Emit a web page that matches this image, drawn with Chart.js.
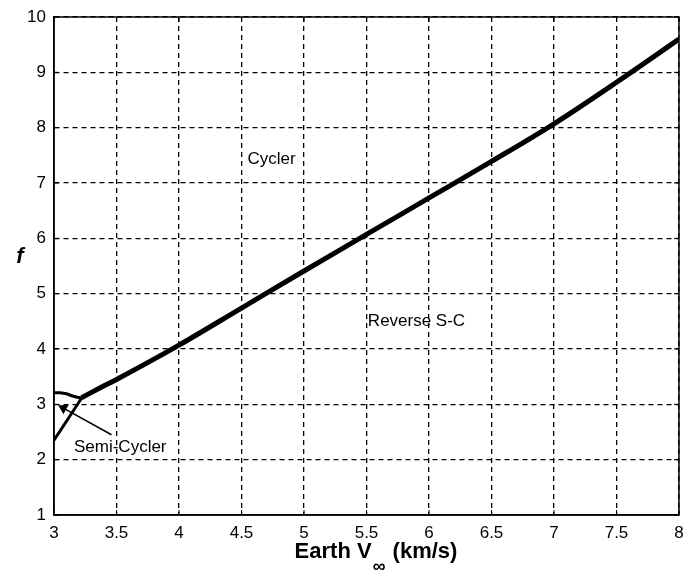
<!DOCTYPE html>
<html><head><meta charset="utf-8">
<script src="https://cdn.jsdelivr.net/npm/chart.js@4"></script>
<style>html,body{margin:0;padding:0;background:#fff}</style>
</head><body>
<canvas id="c" width="686" height="579"></canvas>
<script>
// Boundary between Cycler and Reverse S-C regions
const mainX = [3.22, 3.37, 3.5, 4.0, 4.5, 5.0, 5.5, 6.0, 6.5, 7.0, 7.5, 8.0];
const mainY = [3.12, 3.30, 3.45, 4.07, 4.74, 5.41, 6.07, 6.73, 7.39, 8.07, 8.82, 9.60];
// Semi-cycler region boundaries
const upperX = [3.00, 3.05, 3.10, 3.15, 3.22];
const upperY = [3.21, 3.21, 3.19, 3.15, 3.11];
const lowerX = [3.00, 3.11, 3.22];
const lowerY = [2.35, 2.73, 3.11];
// Arrow from label to region
const arrowX = [3.46, 3.075];
const arrowY = [2.45, 2.93];
// Region labels (data coordinates)
const noteText = ['Cycler', 'Reverse S-C', 'Semi-Cycler'];
const noteX = [4.74, 5.90, 3.53];
const noteY = [7.43, 4.50, 2.23];
// Axes
const xTicks = [3, 3.5, 4, 4.5, 5, 5.5, 6, 6.5, 7, 7.5, 8];
const yTicks = [1, 2, 3, 4, 5, 6, 7, 8, 9, 10];

const pts = (xs, ys) => xs.map((v, i) => ({x: v, y: ys[i]}));
const FONT = "'Liberation Sans', Arial, sans-serif";

const overlay = {
  id: 'overlay',
  afterDraw(chart) {
    const {ctx, chartArea: a, scales: {x, y}} = chart;
    ctx.save();
    ctx.setLineDash([]);
    ctx.strokeStyle = '#000';
    ctx.lineWidth = 1.5;
    ctx.strokeRect(a.left, a.top, a.right - a.left, a.bottom - a.top);
    ctx.lineWidth = 1;
    ctx.beginPath();
    xTicks.forEach(t => {
      const px = x.getPixelForValue(t);
      ctx.moveTo(px, a.bottom); ctx.lineTo(px, a.bottom - 5);
      ctx.moveTo(px, a.top); ctx.lineTo(px, a.top + 5);
    });
    yTicks.forEach(t => {
      const py = y.getPixelForValue(t);
      ctx.moveTo(a.left, py); ctx.lineTo(a.left + 5, py);
      ctx.moveTo(a.right, py); ctx.lineTo(a.right - 5, py);
    });
    ctx.stroke();
    // region labels
    ctx.fillStyle = '#000';
    ctx.font = '17px ' + FONT;
    ctx.textAlign = 'center';
    ctx.textBaseline = 'middle';
    noteText.forEach((t, i) => {
      ctx.fillText(t, x.getPixelForValue(noteX[i]), y.getPixelForValue(noteY[i]));
    });
    // y title
    ctx.font = 'italic bold 22px ' + FONT;
    ctx.fillText('f', 20, 257);
    // x title with subscript
    ctx.textAlign = 'left';
    ctx.textBaseline = 'alphabetic';
    const big = 'bold 22px ' + FONT, small = 'bold 18px ' + FONT;
    ctx.font = big;
    const p1 = 'Earth V', p3 = ' (km/s)';
    const w1 = ctx.measureText(p1).width;
    ctx.font = small;
    const w2 = ctx.measureText('\u221E').width;
    ctx.font = big;
    const w3 = ctx.measureText(p3).width;
    const total = w1 + w2 + w3 + 2;
    let sx = 376 - total / 2;
    ctx.fillText(p1, sx, 558);
    ctx.font = small;
    ctx.fillText('\u221E', sx + w1 + 1, 572);
    ctx.font = big;
    ctx.fillText(p3, sx + w1 + w2 + 2, 558);
    ctx.restore();
  }
};

const tickFont = {family: FONT, size: 17};
const fmt = v => String(v);

new Chart(document.getElementById('c'), {
  type: 'scatter',
  data: {
    datasets: [
      {data: pts(mainX, mainY), showLine: true, borderColor: '#000', borderWidth: 5, pointRadius: 0, cubicInterpolationMode: 'monotone'},
      {data: pts(upperX, upperY), showLine: true, borderColor: '#000', borderWidth: 3, pointRadius: 0, tension: 0.3},
      {data: pts(lowerX, lowerY), showLine: true, borderColor: '#000', borderWidth: 3, pointRadius: 0, tension: 0.2},
      {data: pts(arrowX, arrowY), showLine: true, borderColor: '#000', borderWidth: 1.5,
       pointRadius: [0, 6], pointStyle: 'triangle', rotation: [0, 299],
       pointBackgroundColor: '#000', pointBorderColor: '#000', pointBorderWidth: 0}
    ]
  },
  options: {
    responsive: false,
    animation: false,
    layout: {padding: {top: 17, right: 7, left: 0, bottom: 0}},
    plugins: {legend: {display: false}, tooltip: {enabled: false}},
    scales: {
      x: {
        type: 'linear', min: 3, max: 8,
        afterBuildTicks(s) { s.ticks = xTicks.map(v => ({value: v})); },
        ticks: {color: '#000', font: tickFont, padding: 8, maxRotation: 0, autoSkip: false, callback: fmt},
        grid: {color: '#000', lineWidth: 1.3, drawTicks: false},
        border: {display: true, color: '#000', width: 1.5, dash: [5, 4]},
        afterFit(s) { s.height = 64; s.paddingLeft = 0; s.paddingRight = 0; }
      },
      y: {
        type: 'linear', min: 1, max: 10,
        afterBuildTicks(s) { s.ticks = yTicks.map(v => ({value: v})); },
        ticks: {color: '#000', font: tickFont, padding: 8, autoSkip: false, callback: fmt},
        grid: {color: '#000', lineWidth: 1.3, drawTicks: false},
        border: {display: true, color: '#000', width: 1.5, dash: [5, 4]},
        afterFit(s) { s.width = 54; s.paddingTop = 0; s.paddingBottom = 0; }
      }
    }
  },
  plugins: [overlay]
});
</script>
</body></html>
